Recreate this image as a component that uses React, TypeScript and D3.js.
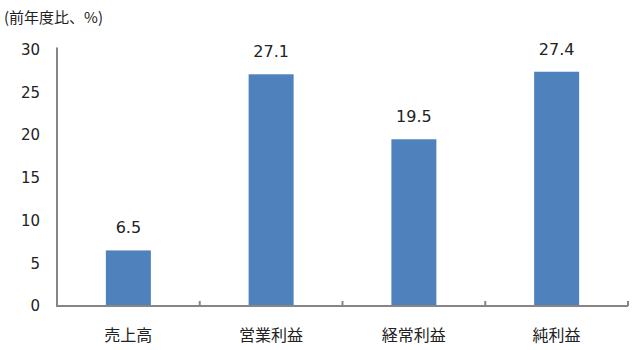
import React from "react";
import * as d3 from "d3";

const categories = ["売上高", "営業利益", "経常利益", "純利益"];
const values = [6.5, 27.1, 19.5, 27.4];
const yTicks = [0, 5, 10, 15, 20, 25, 30];
const unitLabel = "(前年度比、%)";

export default function App() {
  const W = 640, H = 350;
  const left = 57, right = 628, top = 49.5, bottom = 306;
  const x = d3.scaleBand<string>().domain(categories).range([left, right]).paddingInner(0).paddingOuter(0);
  const y = d3.scaleLinear().domain([0, 30]).range([bottom, top]);
  const barW = 45;
  const axisColor = "#868686";
  const numFont = "'DejaVu Sans', Verdana, sans-serif";
  const jpFont = "'Noto Sans CJK JP', sans-serif";
  const boundaries = d3.range(categories.length + 1).map((i) => left + i * x.bandwidth());

  return (
    <svg width={W} height={H} style={{ position: "absolute", left: 0, top: 0, background: "#fff" }}>
      <rect x={0} y={0} width={W} height={H} fill="#fff" />
      <text x={4} y={23} fontFamily={jpFont} fontSize={15} fill="#222">{unitLabel}</text>
      {yTicks.map((t) => (
        <text key={t} x={40} y={y(t)} dy="0.36em" textAnchor="end" fontFamily={numFont} fontSize={15} fill="#222">{t}</text>
      ))}
      {categories.map((c, i) => {
        const cx = (x(c) as number) + x.bandwidth() / 2;
        return (
          <g key={c}>
            <rect x={cx - barW / 2} y={y(values[i])} width={barW} height={bottom - y(values[i])} fill="#4F81BD" />
            <text x={cx} y={y(values[i]) - 17} textAnchor="middle" fontFamily={numFont} fontSize={16} fill="#222">{values[i].toFixed(1)}</text>
            <text x={cx} y={341} textAnchor="middle" fontFamily={jpFont} fontSize={16} fill="#222">{c}</text>
          </g>
        );
      })}
      <line x1={left} x2={left} y1={top - 2} y2={bottom + 1} stroke={axisColor} strokeWidth={2} />
      <line x1={left} x2={right} y1={bottom} y2={bottom} stroke={axisColor} strokeWidth={2} />
      {boundaries.slice(1).map((b, i) => (
        <line key={i} x1={b} x2={b} y1={bottom} y2={bottom - 5} stroke={axisColor} strokeWidth={2} />
      ))}
    </svg>
  );
}
